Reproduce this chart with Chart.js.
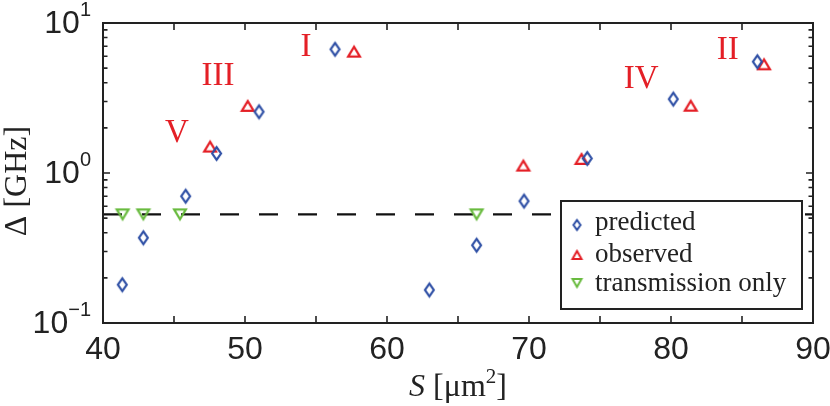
<!DOCTYPE html>
<html>
<head>
<meta charset="utf-8">
<script src="https://cdn.jsdelivr.net/npm/chart.js@4.4.1/dist/chart.umd.min.js"></script>
<style>
  html, body { margin: 0; padding: 0; background: #fff; }
  #wrap { width: 830px; height: 406px; }
</style>
</head>
<body>
<div id="wrap"><canvas id="deltaChart" width="830" height="406"></canvas></div>
<script>
// data
const predictedS = [41.36, 42.84, 45.82, 48.0, 50.99, 56.34, 62.98, 66.31, 69.65, 74.1, 80.16, 86.08];
const predictedD = [0.18, 0.37, 0.70, 1.35, 2.56, 6.68, 0.166, 0.33, 0.65, 1.25, 3.11, 5.52];

const observedS = [47.54, 50.19, 57.68, 69.6, 73.7, 81.39, 86.55];
const observedD = [1.50, 2.80, 6.44, 1.12, 1.24, 2.81, 5.30];

const transS = [41.38, 42.84, 45.42, 66.31];
const transD = [0.53, 0.53, 0.53, 0.53];

const thresholdS = [40, 90];
const thresholdD = [0.53, 0.53];

const romanLabels = ['I', 'II', 'III', 'IV', 'V'];
const romanS = [54.3, 84.0, 48.1, 77.9, 45.2];
const romanD = [6.92, 6.61, 4.43, 4.20, 1.83];

const legendLabels = ['predicted', 'observed', 'transmission only'];

const xTickLabels = [40, 50, 60, 70, 80, 90];
const xTickMarks = [40, 45, 50, 55, 60, 65, 70, 75, 80, 85, 90];
const yTickValues = [10, 1, 0.1];
const yTickExp = ['1', '0', '\u22121'];

const BLUE = '#2e4fa5';
const RED = '#e41f26';
const GREEN = '#69bb3f';
const INK = '#222';

function pts(xs, ys) {
    return xs.map((x, i) => ({ x: x, y: ys[i] }));
}

// MATLAB-like hollow markers
function marker(kind, color, w, h, lw) {
    const pad = 3;
    const c = document.createElement('canvas');
    c.width = Math.ceil(w + 2 * pad);
    c.height = Math.ceil(h + 2 * pad);
    const g = c.getContext('2d');
    g.strokeStyle = color;
    g.lineWidth = lw;
    g.lineJoin = 'miter';
    g.miterLimit = 3;
    const cx = c.width / 2, cy = c.height / 2;
    const hw = (w - lw) / 2, hh = (h - lw) / 2;
    g.beginPath();
    if (kind === 'diamond') {
        g.moveTo(cx, cy - hh); g.lineTo(cx + hw, cy); g.lineTo(cx, cy + hh); g.lineTo(cx - hw, cy);
    } else if (kind === 'up') {
        g.moveTo(cx, cy - hh); g.lineTo(cx + hw, cy + hh); g.lineTo(cx - hw, cy + hh);
    } else {
        g.moveTo(cx - hw, cy - hh); g.lineTo(cx + hw, cy - hh); g.lineTo(cx, cy + hh);
    }
    g.closePath();
    g.stroke();
    return c;
}

const diamondMk = marker('diamond', BLUE, 11, 15, 2.2);
const upMk = marker('up', RED, 14, 12, 2.2);
const downMk = marker('down', GREEN, 14, 12, 2.2);
const legendMks = [
    marker('diamond', BLUE, 9, 12, 2),
    marker('up', RED, 11, 10, 2),
    marker('down', GREEN, 11, 10, 2)
];

// axes box, inward ticks, tick labels, titles, roman labels, legend
const decorPlugin = {
    id: 'decor',
    afterDraw(chart) {
        const ctx = chart.ctx;
        const a = chart.chartArea;
        const xs = chart.scales.x, ys = chart.scales.y;
        ctx.save();

        // roman numerals
        ctx.fillStyle = RED;
        ctx.font = '33px "Liberation Serif", serif';
        ctx.textAlign = 'center';
        ctx.textBaseline = 'middle';
        romanLabels.forEach((t, i) => {
            ctx.fillText(t, xs.getPixelForValue(romanS[i]), ys.getPixelForValue(romanD[i]));
        });

        // frame
        ctx.strokeStyle = INK;
        ctx.lineWidth = 2;
        ctx.strokeRect(a.left, a.top, a.right - a.left, a.bottom - a.top);

        // x ticks (bottom and top)
        ctx.lineWidth = 1.6;
        ctx.beginPath();
        xTickMarks.forEach(v => {
            const px = xs.getPixelForValue(v);
            ctx.moveTo(px, a.bottom); ctx.lineTo(px, a.bottom - 7);
            ctx.moveTo(px, a.top); ctx.lineTo(px, a.top + 7);
        });
        // y ticks, major and minor, both sides
        [0.1, 1].forEach(dec => {
            for (let k = 1; k <= 10; k++) {
                const py = ys.getPixelForValue(k * dec);
                const len = (k === 1 || k === 10) ? 7 : 4.5;
                ctx.moveTo(a.left, py); ctx.lineTo(a.left + len, py);
                ctx.moveTo(a.right, py); ctx.lineTo(a.right - len, py);
            }
        });
        ctx.stroke();

        // x tick labels
        ctx.fillStyle = INK;
        ctx.font = '32px "Liberation Sans", Arial, sans-serif';
        ctx.textAlign = 'center';
        ctx.textBaseline = 'alphabetic';
        xTickLabels.forEach(v => {
            ctx.fillText(String(v), xs.getPixelForValue(v), a.bottom + 36);
        });

        // y tick labels 10^n
        yTickValues.forEach((v, i) => {
            const py = ys.getPixelForValue(v) + 9.5;
            ctx.font = '20px "Liberation Sans", Arial, sans-serif';
            const wSup = ctx.measureText(yTickExp[i]).width;
            ctx.font = '32px "Liberation Sans", Arial, sans-serif';
            const wBase = ctx.measureText('10').width;
            const right = 91;
            ctx.textAlign = 'left';
            ctx.fillText('10', right - wSup - wBase, py);
            ctx.font = '20px "Liberation Sans", Arial, sans-serif';
            ctx.fillText(yTickExp[i], right - wSup, py - 17);
        });

        // x axis title: S [μm²]
        const serif = '"Liberation Serif", serif';
        const parts = [
            { t: 'S', f: 'italic 32px ' + serif, dy: 0 },
            { t: ' [\u03bcm', f: '32px ' + serif, dy: 0 },
            { t: '2', f: '21px ' + serif, dy: -13 },
            { t: ']', f: '32px ' + serif, dy: 0 }
        ];
        let total = 0;
        parts.forEach(p => { ctx.font = p.f; p.w = ctx.measureText(p.t).width; total += p.w; });
        let cx = (a.left + a.right) / 2 - total / 2;
        ctx.textAlign = 'left';
        parts.forEach(p => {
            ctx.font = p.f;
            ctx.fillText(p.t, cx, 396 + p.dy);
            cx += p.w;
        });

        // y axis title
        ctx.save();
        ctx.translate(26, 181);
        ctx.rotate(-Math.PI / 2);
        ctx.font = '32px ' + serif;
        ctx.textAlign = 'center';
        ctx.fillText('\u0394 [GHz]', 0, 0);
        ctx.restore();

        // legend box
        const lx = 561, ly = 201, lw = 241, lh = 108;
        ctx.fillStyle = '#fff';
        ctx.fillRect(lx, ly, lw, lh);
        ctx.strokeStyle = INK;
        ctx.lineWidth = 2;
        ctx.strokeRect(lx, ly, lw, lh);
        const rowBase = [230, 262, 291];
        const mkY = [225, 255, 283];
        ctx.fillStyle = INK;
        ctx.font = '27px ' + serif;
        legendLabels.forEach((t, i) => {
            const m = legendMks[i];
            ctx.drawImage(m, 577 - m.width / 2, mkY[i] - m.height / 2);
            ctx.fillText(t, 595, rowBase[i]);
        });

        ctx.restore();
    }
};

const ctx = document.getElementById('deltaChart').getContext('2d');

new Chart(ctx, {
    type: 'scatter',
    data: {
        datasets: [
            {
                label: 'threshold',
                type: 'line',
                data: pts(thresholdS, thresholdD),
                borderColor: '#111',
                borderWidth: 2.2,
                borderDash: [19, 20],
                pointRadius: 0,
                fill: false,
                order: 10
            },
            {
                label: 'transmission only',
                data: pts(transS, transD),
                pointStyle: downMk,
                pointRadius: 6,
                order: 3
            },
            {
                label: 'observed',
                data: pts(observedS, observedD),
                pointStyle: upMk,
                pointRadius: 6,
                order: 2
            },
            {
                label: 'predicted',
                data: pts(predictedS, predictedD),
                pointStyle: diamondMk,
                pointRadius: 6,
                order: 1
            }
        ]
    },
    options: {
        responsive: false,
        animation: false,
        layout: {
            padding: { left: 103, top: 23, right: 17, bottom: 83 }
        },
        plugins: {
            legend: { display: false },
            tooltip: { enabled: false }
        },
        scales: {
            x: {
                type: 'linear',
                min: 40,
                max: 90,
                display: false
            },
            y: {
                type: 'logarithmic',
                min: 0.1,
                max: 10,
                display: false
            }
        }
    },
    plugins: [decorPlugin]
});
</script>
</body>
</html>
